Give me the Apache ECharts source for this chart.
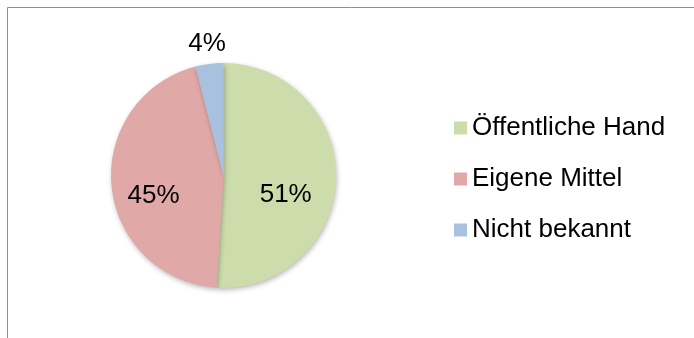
<!DOCTYPE html>
<html>
<head>
<meta charset="utf-8">
<script src="https://cdn.jsdelivr.net/npm/echarts@6/dist/echarts.min.js"></script>
<style>
  html, body { margin: 0; padding: 0; background: #ffffff; }
  #chart { width: 694px; height: 338px; }
</style>
</head>
<body>
<div id="chart"></div>
<script>
// Funding sources (percent share)
const categories = ['Öffentliche Hand', 'Eigene Mittel', 'Nicht bekannt'];
const shares = [51, 45, 4];

// Slice colours and per-slice label nudges
const sliceColors = ['#CDDCAB', '#E0A8A7', '#A8C1DF'];
const labelNudge = {
  'Öffentliche Hand': [3, 17],
  'Eigene Mittel': [-11, 15],
  'Nicht bekannt': [-9, -73]
};

const FONT = '"Liberation Sans", Arial, sans-serif';

const pieData = categories.map((name, i) => ({
  name: name,
  value: shares[i],
  itemStyle: { color: sliceColors[i] },
  label: { offset: labelNudge[name] }
}));

const chart = echarts.init(document.getElementById('chart'), null, { renderer: 'canvas' });
chart.setOption({
  animation: false,
  backgroundColor: '#ffffff',
  graphic: [{
    type: 'rect',
    shape: { x: 7.5, y: 7.5, width: 1200, height: 1200 },
    style: { fill: 'none', stroke: '#8f8f8f', lineWidth: 1 },
    silent: true,
    z: 100
  }],
  legend: {
    orient: 'vertical',
    left: 449,
    top: 110,
    itemWidth: 13,
    itemHeight: 13,
    itemGap: 25,
    icon: 'rect',
    textStyle: { fontFamily: FONT, fontSize: 26, color: '#000000' },
    data: categories
  },
  series: [{
    type: 'pie',
    center: [223.5, 175.5],
    radius: [0, 112.5],
    startAngle: 90,
    clockwise: true,
    avoidLabelOverlap: false,
    label: {
      show: true,
      position: 'inside',
      formatter: p => p.value + '%',
      fontFamily: FONT,
      fontSize: 26,
      color: '#000000'
    },
    labelLine: { show: false },
    itemStyle: {
      borderWidth: 0,
      shadowBlur: 5,
      shadowOffsetX: 1,
      shadowOffsetY: 2,
      shadowColor: 'rgba(0,0,0,0.28)'
    },
    emphasis: { disabled: true },
    data: pieData
  }]
});
</script>
</body>
</html>
